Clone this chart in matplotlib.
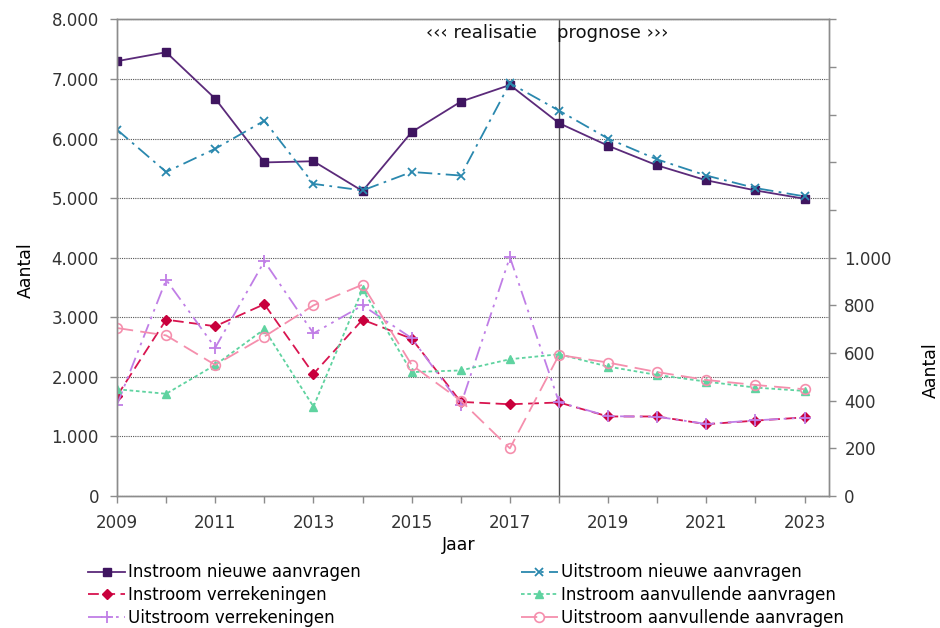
import numpy as np
import matplotlib
matplotlib.use('Agg')
import matplotlib.pyplot as plt
from matplotlib.ticker import FuncFormatter, MultipleLocator

jaren = list(range(2009, 2024))

# linker as
instroom_nieuw = [7300, 7450, 6670, 5600, 5620, 5120, 6110, 6620, 6900, 6260,
                  5880, 5550, 5300, 5130, 4990]
uitstroom_nieuw = [6150, 5440, 5830, 6300, 5240, 5130, 5440, 5380, 6930, 6470,
                   6000, 5650, 5380, 5170, 5030]
instroom_verr = [1680, 2960, 2850, 3220, 2050, 2960, 2640, 1580, 1540, 1570,
                 1335, 1335, 1205, 1265, 1320]
uitstroom_verr = [1530, 3630, 2490, 3940, 2730, 3200, 2650, 1530, 4010, 1575,
                  1340, 1330, 1210, 1270, 1315]
# rechter as
instroom_aanv = [448, 429, 550, 700, 375, 868, 520, 527, 574, 595,
                 543, 508, 480, 455, 441]
uitstroom_aanv = [705, 674, 550, 669, 800, 887, 550, 400, 200, 592,
                  560, 520, 487, 466, 448]

def punt(x, pos):
    return '{:,.0f}'.format(x).replace(',', '.')

fig = plt.figure(figsize=(9.4, 6.28), dpi=100)
ax = fig.add_axes([0.1245, 0.2102, 0.7575, 0.7588])
ax2 = ax.twinx()

grijs = '#8c8c8c'
for a in (ax, ax2):
    for s in a.spines.values():
        s.set_color(grijs)
        s.set_linewidth(1.0)

ax.set_xlim(2009, 2023.5)
ax.set_ylim(0, 8000)
ax2.set_ylim(0, 2000)
ax.yaxis.set_major_locator(MultipleLocator(1000))
ax.yaxis.set_major_formatter(FuncFormatter(punt))
ax.set_xticks(jaren)
ax.set_xticklabels([str(j) if j % 2 == 1 else '' for j in jaren])
ax2.set_yticks(np.arange(0, 2001, 200))
ax2.set_yticklabels([punt(v, None) if v <= 1000 else '' for v in np.arange(0, 2001, 200)])
ax.grid(axis='y', color='#555555', linestyle=(0, (1, 1)), linewidth=0.8)
ax.set_axisbelow(True)

for a in (ax, ax2):
    a.tick_params(axis='both', labelsize=12, colors=grijs, labelcolor='#333333',
                  length=5, width=1.0)
ax.tick_params(axis='x', pad=8)
ax.tick_params(axis='y', pad=8)
ax2.tick_params(axis='y', pad=6)

ax.axvline(2018, color='#555555', linewidth=1.0)

ax.plot(jaren, instroom_nieuw, color='#5b2a7a', linestyle='-', linewidth=1.3,
        marker='s', markersize=6, markerfacecolor='#3f1560', markeredgecolor='#3f1560',
        label='Instroom nieuwe aanvragen')
ax.plot(jaren, instroom_verr, color='#d8144f', linestyle=(0, (6, 3)), linewidth=1.3,
        marker='D', markersize=5, markerfacecolor='#c8003c', markeredgecolor='#c8003c',
        label='Instroom verrekeningen')
ax.plot(jaren, uitstroom_verr, color='#c07ee6', linestyle=(0, (8, 3, 1.5, 3, 1.5, 3)),
        linewidth=1.3, marker='+', markersize=8, markeredgewidth=1.3,
        label='Uitstroom verrekeningen')
ax.plot(jaren, uitstroom_nieuw, color='#2a88ae', linestyle=(0, (8, 3, 1.5, 3)),
        linewidth=1.3, marker='x', markersize=6, markeredgewidth=1.3,
        label='Uitstroom nieuwe aanvragen')
ax2.plot(jaren, instroom_aanv, color='#5fd3a0', linestyle=(0, (2, 1.5)), linewidth=1.3,
         marker='^', markersize=6, markerfacecolor='#5fd3a0', markeredgecolor='#5fd3a0',
         label='Instroom aanvullende aanvragen')
ax2.plot(jaren, uitstroom_aanv, color='#f58fad', linestyle=(0, (9, 4)), linewidth=1.3,
         marker='o', markersize=7, markerfacecolor='none', markeredgecolor='#f58fad',
         markeredgewidth=1.2, label='Uitstroom aanvullende aanvragen')

ax.text(2017.55, 7780, '‹‹‹ realisatie', ha='right', va='center', fontsize=13, color='#111111')
ax.text(2017.95, 7780, 'prognose ›››', ha='left', va='center', fontsize=13, color='#111111')

ax.set_ylabel('Aantal', fontsize=12.5)
ax.yaxis.set_label_coords(-0.115, 0.475)
ax2.set_ylabel('Aantal', fontsize=12.5)
ax2.yaxis.set_label_coords(1.13, 0.265)
ax.set_xlabel('Jaar', fontsize=12.5)
ax.xaxis.set_label_coords(0.48, -0.085)

h1, l1 = ax.get_legend_handles_labels()
h2, l2 = ax2.get_legend_handles_labels()
fig.legend(h1 + h2, l1 + l2, loc='lower left', bbox_to_anchor=(0.078, -0.022), ncol=2,
           frameon=False, fontsize=12, handlelength=2.2, handletextpad=0.2,
           labelspacing=0.28, columnspacing=9.6)

fig.savefig('out.png', dpi=100)
